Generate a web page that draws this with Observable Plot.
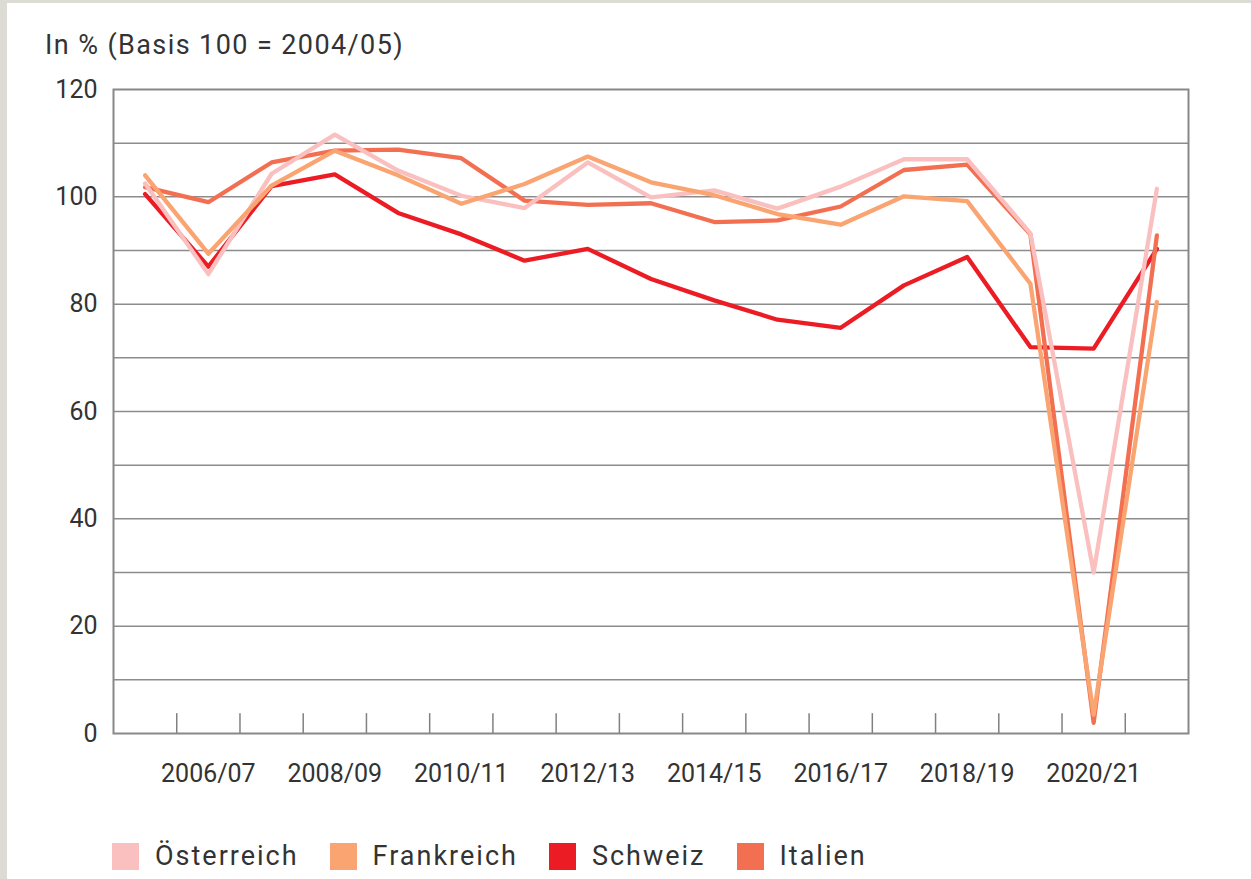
<!DOCTYPE html>
<html>
<head>
<meta charset="utf-8">
<script src="https://cdn.jsdelivr.net/npm/d3@7"></script>
<script src="https://cdn.jsdelivr.net/npm/@observablehq/plot@0.6"></script>
<style>
  html, body { margin: 0; padding: 0; background: #fff; }
  body { width: 1244px; height: 876px; border-left: 7px solid #dcdcd4; border-top: 3px solid #dcdcd4; font-family: Roboto, "Noto Sans", sans-serif; color: #333; overflow: hidden; }
  #title { height: 67px; box-sizing: border-box; padding-left: 38px; padding-top: 29px; font-size: 27px; line-height: 27px; letter-spacing: 1.4px; color: #333; white-space: nowrap; }
  #legend { display: flex; align-items: center; margin-left: 105px; margin-top: 47px; font-size: 27px; letter-spacing: 2px; color: #333; }
  .item { display: flex; align-items: center; margin-right: 31px; }
  .sw { width: 27px; height: 27px; margin-right: 16px; }
</style>
</head>
<body>
<div id="title">In % (Basis 100 = 2004/05)</div>
<div id="chart"></div>
<div id="legend"></div>
<script>
const seasons = ["2005/06","2006/07","2007/08","2008/09","2009/10","2010/11","2011/12","2012/13","2013/14","2014/15","2015/16","2016/17","2017/18","2018/19","2019/20","2020/21","2021/22"];
const labelSeasons = ["2006/07","2008/09","2010/11","2012/13","2014/15","2016/17","2018/19","2020/21"];
const countries = ["Österreich","Frankreich","Schweiz","Italien"];
const colors = ["#f9c0bf","#f9a471","#ec1c24","#f36f51"];
const oesterreich = [102.5, 85.6, 104.3, 111.6, 104.9, 100.2, 97.9, 106.4, 99.9, 101.2, 97.8, 101.9, 107, 107, 93.2, 30, 101.5];
const frankreich  = [104, 89.4, 102.1, 108.6, 104, 98.7, 102.4, 107.5, 102.7, 100.3, 96.8, 94.8, 100.1, 99.2, 83.8, 3.5, 80.4];
const schweiz     = [100.5, 87, 102, 104.2, 97, 93, 88.1, 90.3, 84.7, 80.7, 77.1, 75.6, 83.5, 88.8, 72, 71.7, 90.3];
const italien     = [101.8, 99, 106.4, 108.6, 108.8, 107.2, 99.3, 98.5, 98.8, 95.3, 95.6, 98.2, 105, 106, 93, 2, 92.8];
const yTicks = [0, 20, 40, 60, 80, 100, 120];
const gridValues = [10, 20, 30, 40, 50, 60, 70, 80, 90, 100, 110];

const seriesMap = {"Österreich": oesterreich, "Frankreich": frankreich, "Schweiz": schweiz, "Italien": italien};
const drawOrder = ["Schweiz","Italien","Österreich","Frankreich"];
const rows = drawOrder.flatMap(c => seriesMap[c].map((v, i) => ({country: c, i, season: seasons[i], value: v})));
const boundaries = seasons.slice(1).map((s, i) => i + 0.5);
const labelIdx = labelSeasons.map(s => seasons.indexOf(s));

const chart = Plot.plot({
  width: 1244,
  height: 723,
  marginTop: 19,
  marginLeft: 106,
  marginRight: 63,
  marginBottom: 60,
  style: {fontFamily: "Roboto, 'Noto Sans', sans-serif", fontSize: "25px", color: "#333", background: "transparent"},
  x: {type: "linear", domain: [-0.5, seasons.length - 0.5]},
  y: {domain: [0, 120]},
  color: {domain: countries, range: colors},
  marks: [
    Plot.ruleY(gridValues, {stroke: "#8c8c8c", strokeWidth: 1.5}),
    Plot.ruleX(boundaries, {y1: 0, y2: 3.7, stroke: "#808080", strokeWidth: 1.5}),
    Plot.line(rows, {x: "i", y: "value", z: "country", stroke: "country", strokeWidth: 4.3}),
    Plot.frame({stroke: "#888", strokeWidth: 2}),
    Plot.axisY({ticks: yTicks, tickSize: 0, tickPadding: 16, fill: "#333", fontSize: 25, label: null}),
    Plot.axisX({ticks: labelIdx, tickFormat: i => seasons[i], tickSize: 0, tickPadding: 31, fill: "#333", fontSize: 25, label: null})
  ]
});
document.getElementById("chart").appendChild(chart);

const legend = document.getElementById("legend");
countries.forEach((c, k) => {
  const item = document.createElement("div");
  item.className = "item";
  const sw = document.createElement("div");
  sw.className = "sw";
  sw.style.background = colors[k];
  const t = document.createElement("span");
  t.textContent = c;
  item.appendChild(sw);
  item.appendChild(t);
  legend.appendChild(item);
});
</script>
</body>
</html>
